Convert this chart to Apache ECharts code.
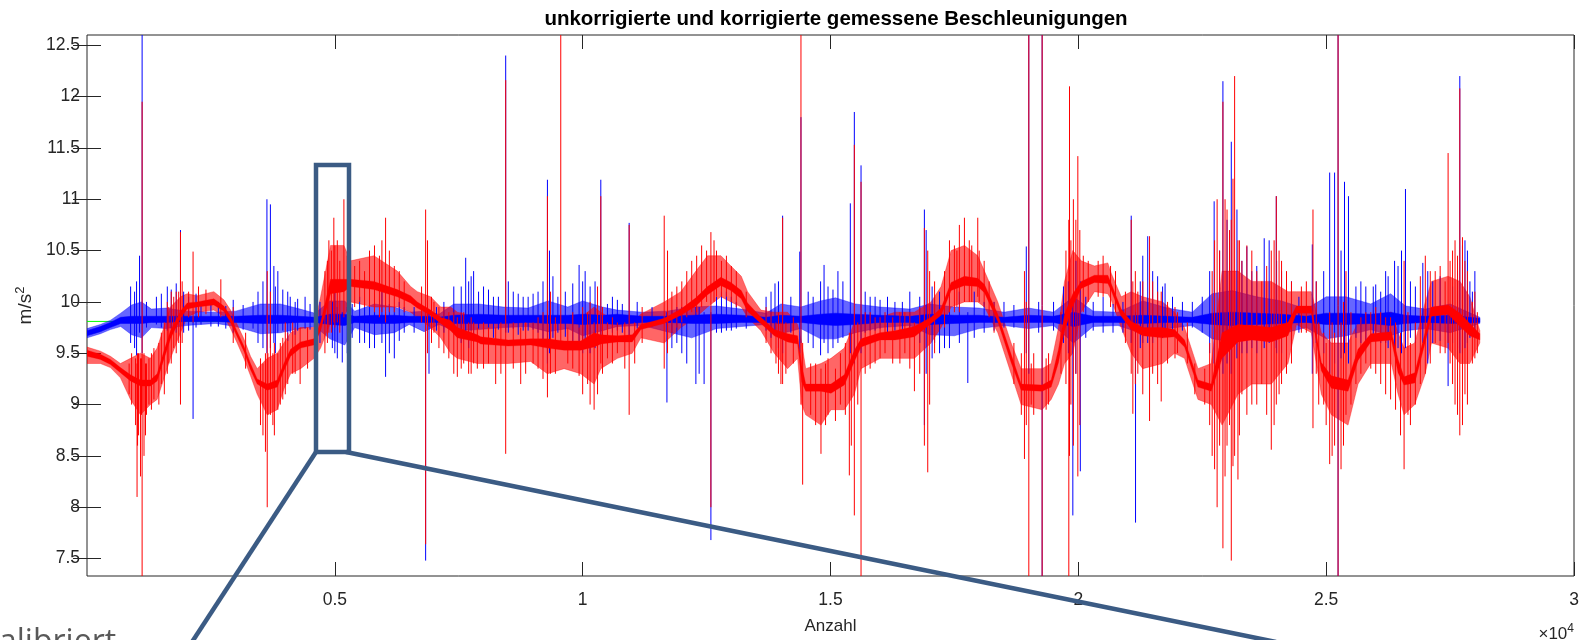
<!DOCTYPE html>
<html>
<head>
<meta charset="utf-8">
<script src="https://cdn.jsdelivr.net/npm/echarts@6/dist/echarts.min.js"></script>
<style>
  html, body { margin: 0; padding: 0; background: #fff; }
  #chart { width: 1587px; height: 640px; }
</style>
</head>
<body>
<div id="chart"></div>
<script>
// Axis ranges and tick positions
const xTicks = [5000, 10000, 15000, 20000, 25000, 30000];
const yTicks = [7.5, 8, 8.5, 9, 9.5, 10, 10.5, 11, 11.5, 12, 12.5];
const gravity = 9.81;          // reference line (green)
const sampleEnd = 28100;       // last sample index

// Uncorrected signal (blue), per station:
// [sample, noise low, core low, core high, noise high] in m/s^2
const blueBand = [
  [0, 9.65, 9.67, 9.72, 9.74], [270, 9.69, 9.71, 9.76, 9.78], [470, 9.73, 9.75, 9.80, 9.82],
  [680, 9.76, 9.79, 9.85, 9.89], [900, 9.68, 9.79, 9.86, 9.97], [1100, 9.65, 9.79, 9.86, 10.00],
  [1300, 9.75, 9.80, 9.86, 9.93], [1600, 9.74, 9.80, 9.86, 9.94], [2000, 9.77, 9.81, 9.86, 9.91],
  [2600, 9.79, 9.81, 9.86, 9.90], [3000, 9.76, 9.80, 9.86, 9.91], [3500, 9.69, 9.79, 9.87, 9.98],
  [3900, 9.70, 9.79, 9.87, 9.98], [4300, 9.74, 9.80, 9.86, 9.93], [4600, 9.76, 9.80, 9.85, 9.89],
  [4900, 9.64, 9.78, 9.88, 10.01], [5200, 9.58, 9.77, 9.88, 10.01], [5400, 9.75, 9.80, 9.86, 9.91],
  [5800, 9.68, 9.79, 9.87, 9.98], [6200, 9.70, 9.79, 9.87, 9.95], [6500, 9.78, 9.80, 9.86, 9.90],
  [6800, 9.71, 9.80, 9.86, 9.91], [7100, 9.78, 9.80, 9.85, 9.88], [7400, 9.72, 9.79, 9.87, 9.98],
  [7900, 9.73, 9.79, 9.88, 9.98], [8400, 9.75, 9.79, 9.87, 9.95], [8900, 9.76, 9.80, 9.87, 9.94],
  [9300, 9.71, 9.79, 9.87, 10.01], [9700, 9.74, 9.79, 9.87, 9.95], [10000, 9.67, 9.78, 9.88, 10.01],
  [10400, 9.72, 9.79, 9.87, 9.95], [10700, 9.76, 9.78, 9.88, 9.92], [11200, 9.77, 9.80, 9.86, 9.90],
  [11700, 9.71, 9.80, 9.86, 9.91], [12200, 9.65, 9.79, 9.87, 9.95], [12700, 9.74, 9.79, 9.88, 9.96],
  [13200, 9.76, 9.80, 9.87, 9.93], [13700, 9.78, 9.80, 9.85, 9.89], [14000, 9.69, 9.79, 9.87, 9.98],
  [14400, 9.74, 9.80, 9.86, 9.95], [14800, 9.64, 9.78, 9.88, 10.01], [15100, 9.64, 9.77, 9.89, 10.04],
  [15500, 9.70, 9.78, 9.88, 9.98], [16000, 9.75, 9.80, 9.87, 9.95], [16600, 9.77, 9.80, 9.86, 9.93],
  [17000, 9.68, 9.78, 9.88, 9.98], [17500, 9.67, 9.79, 9.87, 9.95], [18000, 9.74, 9.80, 9.87, 9.94],
  [18500, 9.77, 9.80, 9.85, 9.90], [19000, 9.74, 9.80, 9.87, 9.94], [19500, 9.77, 9.80, 9.86, 9.90],
  [19900, 9.60, 9.76, 9.90, 10.05], [20300, 9.76, 9.80, 9.86, 9.91], [20800, 9.77, 9.80, 9.86, 9.90],
  [21300, 9.69, 9.79, 9.87, 10.01], [21800, 9.74, 9.80, 9.86, 9.94], [22300, 9.77, 9.80, 9.85, 9.90],
  [22700, 9.64, 9.78, 9.89, 10.08], [23100, 9.61, 9.77, 9.90, 10.11], [23600, 9.67, 9.78, 9.89, 10.05],
  [24100, 9.69, 9.79, 9.88, 10.01], [24600, 9.75, 9.80, 9.86, 9.93], [25000, 9.64, 9.78, 9.89, 10.05],
  [25400, 9.67, 9.78, 9.89, 10.05], [25900, 9.73, 9.79, 9.88, 9.98], [26300, 9.67, 9.77, 9.90, 10.08],
  [26600, 9.72, 9.79, 9.87, 9.96], [27000, 9.74, 9.80, 9.86, 9.93], [27500, 9.70, 9.79, 9.87, 9.98],
  [28100, 9.79, 9.80, 9.84, 9.85]
];

// Individual excursions of the blue signal: [sample, low, high]
const blueSpikes = [
  [880, 9.60, 10.15], [960, 9.55, 10.10], [1000, 9.48, 10.20], [1060, 9.70, 10.45], [1112, 9.50, 12.70],
  [1200, 9.75, 10.00], [1400, 9.78, 10.05], [1500, 9.75, 10.08], [1620, 9.72, 10.15], [1700, 9.74, 10.12],
  [1800, 9.70, 10.18], [1886, 9.65, 10.70], [1950, 9.70, 10.10], [2050, 9.72, 10.05], [2140, 8.86, 9.85],
  [2200, 9.75, 10.08], [2300, 9.78, 9.98], [2500, 9.76, 10.02], [2650, 9.76, 10.00], [2800, 9.74, 9.96],
  [2950, 9.70, 10.02], [3150, 9.73, 9.97], [3350, 9.74, 10.00], [3450, 9.60, 10.10], [3550, 9.55, 10.20],
  [3630, 9.50, 11.00], [3700, 9.55, 10.95], [3770, 9.60, 10.35], [3800, 9.50, 10.15], [3850, 9.70, 10.30],
  [3950, 9.72, 10.12], [4050, 9.62, 10.10], [4100, 9.70, 10.05], [4200, 9.68, 10.00], [4250, 9.72, 10.03],
  [4400, 9.74, 10.05], [4500, 9.73, 9.98], [4700, 9.60, 10.00], [4950, 9.55, 10.00], [5000, 9.50, 10.10],
  [5050, 9.45, 9.95], [5150, 9.41, 9.90], [5250, 9.50, 9.95], [5350, 9.65, 9.98], [5500, 9.60, 10.05],
  [5600, 9.60, 9.95], [5700, 9.55, 10.00], [5800, 9.55, 9.98], [5950, 9.60, 10.10], [6024, 9.27, 9.90],
  [6100, 9.50, 9.98], [6200, 9.45, 9.95], [6300, 9.62, 10.00], [6400, 9.70, 9.95], [6600, 9.70, 9.95],
  [6832, 7.48, 9.85], [6900, 9.30, 9.90], [7050, 9.72, 9.95], [7200, 9.70, 10.00], [7400, 9.70, 10.15],
  [7550, 9.60, 10.15], [7640, 9.65, 10.43], [7700, 9.55, 10.20], [7750, 9.72, 10.25], [7800, 9.65, 10.30],
  [7900, 9.74, 10.10], [8000, 9.70, 10.15], [8100, 9.72, 10.12], [8200, 9.65, 10.05], [8300, 9.73, 10.05],
  [8447, 9.70, 12.40], [8500, 9.70, 10.20], [8600, 9.74, 10.10], [8700, 9.68, 10.08], [8800, 9.72, 10.05],
  [8900, 9.72, 10.05], [9000, 9.73, 10.08], [9100, 9.70, 10.10], [9200, 9.60, 10.20], [9289, 9.40, 11.19],
  [9330, 9.50, 10.50], [9400, 9.65, 10.25], [9500, 9.70, 10.05], [9650, 9.66, 10.10], [9800, 9.62, 10.18],
  [9928, 9.60, 10.36], [10000, 9.50, 10.20], [10050, 9.55, 10.30], [10150, 9.50, 10.15], [10250, 9.55, 10.20],
  [10366, 9.60, 11.19], [10500, 9.74, 9.98], [10600, 9.70, 10.05], [10700, 9.72, 10.02], [10800, 9.70, 9.98],
  [10938, 9.65, 10.77], [11100, 9.74, 10.00], [11400, 9.76, 9.95], [11700, 9.02, 9.90], [11800, 9.55, 9.92],
  [11900, 9.60, 9.95], [12000, 9.50, 9.95], [12100, 9.40, 9.95], [12284, 9.20, 9.95], [12350, 9.30, 9.95],
  [12450, 9.20, 9.90], [12587, 7.68, 9.90], [12700, 9.70, 10.05], [12800, 9.70, 10.10], [12900, 9.72, 10.10],
  [13000, 9.72, 10.05], [13100, 9.74, 10.00], [13300, 9.74, 10.00], [13700, 9.72, 10.05], [13800, 9.65, 10.10],
  [13880, 9.68, 10.18], [13950, 9.55, 10.20], [14034, 9.50, 10.84], [14200, 9.70, 10.05], [14380, 9.50, 10.49],
  [14404, 9.60, 11.80], [14550, 9.60, 10.10], [14650, 9.55, 10.05], [14800, 9.48, 10.20], [14870, 9.60, 10.36],
  [14950, 9.50, 10.15], [15050, 9.55, 10.12], [15150, 9.60, 10.30], [15250, 9.65, 10.20], [15400, 9.50, 10.96],
  [15481, 9.40, 11.85], [15616, 9.50, 11.33], [15700, 9.70, 10.10], [15800, 9.72, 10.05], [15900, 9.72, 10.05],
  [16000, 9.74, 10.02], [16150, 9.70, 10.05], [16300, 9.72, 10.00], [16450, 9.72, 10.00], [16600, 9.74, 10.10],
  [16800, 9.60, 10.05], [16894, 8.80, 10.90], [16930, 9.30, 10.70], [17050, 9.45, 10.15], [17100, 9.60, 10.05],
  [17200, 9.50, 10.10], [17300, 9.55, 10.00], [17400, 9.55, 10.05], [17600, 9.60, 10.10], [17770, 9.21, 9.90],
  [17900, 9.65, 10.10], [18100, 9.70, 10.00], [18300, 9.72, 10.00], [18500, 9.75, 10.00], [18700, 9.75, 9.97],
  [18950, 9.50, 10.54], [19000, 9.30, 12.70], [19200, 9.70, 10.00], [19270, 7.30, 12.70], [19500, 9.72, 10.00],
  [19700, 9.60, 10.15], [19800, 9.50, 10.20], [19889, 7.92, 10.00], [19950, 9.30, 10.40], [20040, 8.35, 10.20],
  [20150, 9.65, 10.05], [20300, 9.72, 10.00], [20500, 9.70, 10.05], [20700, 9.70, 9.98], [20900, 9.70, 10.00],
  [21067, 9.60, 10.84], [21154, 7.85, 9.90], [21250, 9.55, 10.20], [21300, 9.60, 10.45], [21400, 9.60, 10.64],
  [21500, 9.60, 10.30], [21600, 9.65, 10.25], [21700, 9.65, 10.15], [21750, 9.70, 10.18], [21900, 9.72, 10.05],
  [22100, 9.72, 10.00], [22300, 9.75, 10.00], [22500, 9.70, 10.05], [22650, 9.50, 10.30], [22740, 9.40, 10.98],
  [22850, 9.45, 10.50], [22917, 9.30, 12.15], [23000, 9.40, 10.80], [23086, 9.30, 11.56], [23200, 9.45, 10.90],
  [23300, 9.50, 10.40], [23400, 9.50, 10.54], [23500, 9.55, 10.30], [23600, 9.50, 10.35], [23750, 9.55, 10.62],
  [23850, 9.60, 10.60], [23994, 9.55, 11.03], [24000, 9.50, 10.40], [24100, 9.50, 10.30], [24200, 9.60, 10.25],
  [24300, 9.55, 10.20], [24450, 9.70, 10.05], [24720, 9.30, 10.56], [24800, 9.60, 10.20], [24950, 9.50, 10.30],
  [25071, 9.30, 11.26], [25170, 9.40, 11.26], [25240, 7.30, 12.70], [25300, 9.45, 10.50], [25370, 9.50, 11.17],
  [25450, 9.40, 11.03], [25600, 9.65, 10.15], [25700, 9.60, 10.20], [25800, 9.60, 10.15], [25950, 9.62, 10.15],
  [26000, 9.65, 10.17], [26100, 9.60, 10.10], [26200, 9.60, 10.30], [26250, 9.55, 10.25], [26380, 9.55, 10.40],
  [26450, 9.55, 10.35], [26520, 9.50, 10.50], [26600, 9.55, 11.10], [26700, 9.65, 10.20], [26800, 9.60, 10.15],
  [26950, 9.60, 10.38], [27050, 9.40, 10.30], [27150, 9.60, 10.20], [27300, 9.62, 10.25], [27460, 9.18, 9.90],
  [27550, 9.60, 10.15], [27650, 9.55, 10.30], [27696, 9.50, 12.20], [27750, 9.50, 10.55], [27800, 9.55, 10.60],
  [27850, 9.60, 10.50], [27900, 9.65, 10.20], [27950, 9.70, 10.10], [28000, 9.70, 10.30]
];

// Corrected signal (red), per station:
// [sample, noise low, core low, core high, noise high] in m/s^2
const redBand = [
  [0, 9.40, 9.47, 9.53, 9.56], [271, 9.40, 9.44, 9.49, 9.52], [473, 9.36, 9.39, 9.44, 9.47],
  [675, 9.26, 9.31, 9.36, 9.40], [877, 9.05, 9.23, 9.29, 9.45], [1078, 8.90, 9.18, 9.24, 9.50],
  [1280, 9.00, 9.18, 9.24, 9.45], [1415, 9.05, 9.23, 9.30, 9.55], [1550, 9.25, 9.44, 9.52, 9.75],
  [1684, 9.45, 9.64, 9.72, 9.95], [1886, 9.70, 9.84, 9.91, 10.05], [2021, 9.85, 9.93, 9.99, 10.08],
  [2222, 9.90, 9.95, 10.00, 10.06], [2559, 9.92, 9.97, 10.03, 10.10], [2761, 9.86, 9.91, 9.96, 10.02],
  [2896, 9.74, 9.80, 9.86, 9.92], [3030, 9.60, 9.66, 9.71, 9.78], [3165, 9.45, 9.52, 9.57, 9.64],
  [3299, 9.28, 9.34, 9.40, 9.47], [3434, 9.10, 9.20, 9.25, 9.35], [3636, 8.90, 9.14, 9.20, 9.45],
  [3838, 8.95, 9.17, 9.24, 9.50], [3972, 9.15, 9.33, 9.40, 9.60], [4107, 9.30, 9.47, 9.54, 9.70],
  [4309, 9.35, 9.55, 9.61, 9.75], [4578, 9.45, 9.58, 9.64, 9.75], [4713, 9.55, 9.72, 9.80, 10.05],
  [4914, 9.80, 10.08, 10.22, 10.55], [5183, 9.85, 10.10, 10.22, 10.55], [5318, 10.00, 10.15, 10.22, 10.40],
  [5789, 9.95, 10.12, 10.20, 10.45], [6260, 9.95, 10.05, 10.12, 10.30], [6529, 9.90, 9.99, 10.06, 10.15],
  [6664, 9.85, 9.94, 10.00, 10.10], [6933, 9.75, 9.87, 9.92, 10.05], [7135, 9.65, 9.79, 9.85, 9.95],
  [7337, 9.50, 9.72, 9.82, 9.95], [7471, 9.45, 9.65, 9.75, 9.90], [7875, 9.40, 9.61, 9.68, 9.85],
  [7943, 9.40, 9.59, 9.66, 9.80], [8500, 9.40, 9.57, 9.63, 9.80], [8952, 9.42, 9.58, 9.64, 9.80],
  [9289, 9.30, 9.55, 9.64, 9.85], [9625, 9.35, 9.53, 9.62, 9.85], [9962, 9.30, 9.53, 9.62, 9.85],
  [10231, 9.20, 9.56, 9.70, 9.95], [10366, 9.35, 9.59, 9.68, 9.90], [10700, 9.45, 9.61, 9.67, 9.80],
  [11000, 9.50, 9.61, 9.68, 9.80], [11173, 9.65, 9.73, 9.78, 9.88], [11645, 9.60, 9.79, 9.84, 10.00],
  [11981, 9.75, 9.87, 9.93, 10.10], [12284, 9.85, 9.96, 10.04, 10.30], [12519, 9.95, 10.07, 10.15, 10.45],
  [12789, 10.05, 10.16, 10.24, 10.45], [12991, 10.00, 10.11, 10.19, 10.35], [13200, 9.95, 10.03, 10.11, 10.25],
  [13327, 9.85, 9.91, 9.99, 10.10], [13596, 9.72, 9.79, 9.85, 9.92], [13865, 9.50, 9.67, 9.73, 9.90],
  [14135, 9.35, 9.61, 9.69, 9.90], [14337, 9.45, 9.59, 9.67, 9.78], [14420, 9.00, 9.22, 9.38, 9.60],
  [14500, 8.90, 9.13, 9.20, 9.35], [14808, 8.80, 9.13, 9.20, 9.40], [15010, 8.95, 9.11, 9.20, 9.45],
  [15279, 8.95, 9.19, 9.29, 9.55], [15481, 9.10, 9.42, 9.53, 9.80], [15616, 9.35, 9.56, 9.64, 9.85],
  [16000, 9.45, 9.63, 9.70, 9.85], [16300, 9.45, 9.63, 9.72, 9.90], [16693, 9.45, 9.66, 9.76, 9.90],
  [17029, 9.60, 9.79, 9.85, 10.00], [17231, 9.75, 9.87, 9.94, 10.15], [17433, 9.95, 10.11, 10.19, 10.50],
  [17702, 10.00, 10.16, 10.25, 10.55], [17971, 10.00, 10.15, 10.23, 10.45], [18106, 9.95, 10.09, 10.17, 10.30],
  [18375, 9.70, 9.81, 9.88, 10.00], [18644, 9.30, 9.41, 9.49, 9.60], [18846, 9.00, 9.14, 9.20, 9.35],
  [19270, 8.95, 9.13, 9.19, 9.35], [19452, 9.05, 9.17, 9.24, 9.40], [19600, 9.20, 9.41, 9.54, 9.75],
  [19721, 9.40, 9.72, 9.88, 10.20], [19889, 9.50, 9.96, 10.08, 10.50], [20057, 9.90, 10.13, 10.20, 10.40],
  [20326, 10.10, 10.19, 10.26, 10.35], [20595, 10.08, 10.18, 10.26, 10.38], [20663, 10.02, 10.11, 10.18, 10.28],
  [20865, 9.75, 9.86, 9.93, 10.05], [21067, 9.50, 9.73, 9.81, 10.10], [21300, 9.35, 9.67, 9.75, 10.05],
  [21700, 9.40, 9.65, 9.75, 10.00], [21941, 9.50, 9.66, 9.73, 9.90], [22143, 9.45, 9.56, 9.63, 9.75],
  [22413, 9.05, 9.17, 9.24, 9.35], [22682, 9.00, 9.13, 9.20, 9.40], [22900, 8.80, 9.45, 9.70, 10.30],
  [23220, 9.10, 9.61, 9.78, 10.30], [23500, 9.20, 9.63, 9.77, 10.20], [23893, 9.20, 9.61, 9.75, 10.20],
  [24230, 9.40, 9.67, 9.80, 10.10], [24400, 9.78, 9.89, 9.96, 10.10], [24701, 9.70, 9.89, 9.96, 10.10],
  [24903, 9.10, 9.33, 9.41, 9.70], [25105, 8.90, 9.16, 9.28, 9.60], [25441, 8.80, 9.13, 9.24, 9.60],
  [25643, 9.20, 9.43, 9.54, 9.80], [25900, 9.40, 9.61, 9.69, 9.85], [26316, 9.40, 9.63, 9.71, 9.90],
  [26451, 9.10, 9.31, 9.44, 9.70], [26572, 8.90, 9.19, 9.27, 9.55], [26787, 9.00, 9.21, 9.31, 9.60],
  [27000, 9.30, 9.61, 9.71, 10.00], [27124, 9.60, 9.86, 9.95, 10.20], [27460, 9.55, 9.88, 9.97, 10.25],
  [27700, 9.40, 9.76, 9.89, 10.20], [27898, 9.40, 9.67, 9.79, 10.05], [28100, 9.60, 9.63, 9.69, 9.72]
];

// Individual excursions of the red signal: [sample, low, high]
const redSpikes = [
  [850, 9.10, 9.40], [900, 9.00, 9.50], [980, 8.80, 9.45], [1010, 8.10, 9.40], [1020, 8.60, 9.50],
  [1040, 8.70, 9.50], [1080, 8.30, 9.45], [1100, 8.90, 9.45], [1112, 7.30, 11.95], [1150, 8.50, 9.50],
  [1180, 8.70, 9.40], [1200, 8.90, 9.40], [1250, 9.00, 9.45], [1300, 8.95, 9.50], [1350, 9.05, 9.55],
  [1450, 9.00, 9.60], [1500, 9.20, 9.70], [1560, 9.10, 9.80], [1620, 9.30, 10.00], [1650, 9.40, 9.95],
  [1700, 9.40, 10.10], [1750, 9.55, 10.05], [1800, 9.50, 10.10], [1850, 9.60, 10.10], [1886, 9.00, 10.68],
  [1920, 9.60, 10.20], [2050, 9.85, 10.10], [2140, 9.80, 10.49], [2250, 9.85, 10.15], [2400, 9.88, 10.12],
  [2700, 9.85, 10.22], [2950, 9.60, 9.95], [3200, 9.35, 9.70], [3500, 8.80, 9.45], [3550, 8.70, 9.40],
  [3600, 8.54, 9.50], [3636, 8.00, 10.30], [3650, 8.90, 9.50], [3700, 8.90, 10.10], [3750, 8.80, 9.50],
  [3780, 8.70, 9.60], [3850, 8.95, 9.50], [3900, 9.00, 9.60], [3950, 9.05, 9.65], [4000, 9.10, 9.80],
  [4050, 9.20, 9.70], [4150, 9.30, 9.80], [4200, 9.30, 9.75], [4300, 9.20, 9.75], [4450, 9.35, 9.75],
  [4800, 9.50, 10.30], [4850, 9.60, 10.40], [4880, 9.70, 10.60], [4930, 9.70, 10.50], [4980, 9.80, 10.82],
  [5000, 9.75, 10.55], [5050, 9.80, 10.60], [5100, 9.70, 10.40], [5183, 9.85, 11.00], [5250, 9.90, 10.45],
  [5400, 9.95, 10.35], [5500, 10.00, 10.40], [5600, 9.95, 10.30], [5700, 9.95, 10.50], [5800, 9.90, 10.55],
  [5900, 9.85, 10.45], [5950, 9.90, 10.60], [6024, 9.80, 10.82], [6100, 9.90, 10.50], [6200, 9.90, 10.35],
  [6300, 9.95, 10.30], [6400, 9.90, 10.20], [6750, 9.80, 10.15], [6832, 7.64, 10.90], [6870, 9.50, 10.60],
  [6950, 9.60, 10.05], [7000, 9.70, 10.00], [7100, 9.55, 9.95], [7200, 9.50, 9.95], [7300, 9.45, 9.90],
  [7400, 9.30, 9.90], [7471, 9.27, 9.85], [7550, 9.35, 9.90], [7600, 9.40, 9.90], [7700, 9.30, 9.80],
  [7750, 9.30, 9.85], [7800, 9.40, 9.80], [7875, 9.35, 9.75], [8000, 9.35, 9.80], [8100, 9.40, 9.75],
  [8245, 9.20, 9.75], [8350, 9.30, 9.80], [8447, 8.52, 12.16], [8600, 9.35, 9.80], [8750, 9.20, 9.75],
  [8850, 9.30, 9.80], [9000, 9.40, 9.80], [9100, 9.35, 9.85], [9200, 9.25, 9.90], [9289, 9.07, 11.03],
  [9350, 9.30, 10.10], [9450, 9.30, 9.85], [9558, 9.60, 12.70], [9700, 9.40, 9.75], [9800, 9.35, 9.90],
  [9928, 9.28, 9.75], [10000, 9.10, 9.95], [10100, 9.20, 9.90], [10150, 9.00, 10.00], [10231, 8.95, 9.80],
  [10300, 9.10, 10.15], [10366, 9.40, 11.03], [10400, 9.30, 9.95], [10500, 9.45, 9.80], [10600, 9.40, 9.85],
  [10700, 9.50, 9.80], [10850, 9.35, 9.80], [10938, 8.90, 10.75], [11050, 9.40, 9.80], [11200, 9.60, 9.95],
  [11645, 9.35, 10.84], [11712, 9.50, 10.50], [11800, 9.70, 10.10], [11900, 9.75, 10.15], [12000, 9.80, 10.20],
  [12100, 9.85, 10.30], [12200, 9.90, 10.40], [12300, 9.90, 10.45], [12400, 9.95, 10.55], [12500, 10.00, 10.50],
  [12587, 8.00, 10.68], [12650, 10.00, 10.60], [12700, 10.05, 10.50], [12800, 10.05, 10.40], [12900, 10.05, 10.45],
  [13000, 10.00, 10.35], [13100, 9.95, 10.30], [13300, 9.85, 10.10], [13700, 9.60, 9.95], [13800, 9.50, 9.90],
  [13900, 9.40, 9.80], [13950, 9.30, 9.90], [14000, 9.20, 9.80], [14034, 9.20, 10.82], [14100, 9.30, 9.80],
  [14250, 9.40, 9.85], [14404, 9.00, 12.70], [14438, 8.22, 9.60], [14600, 8.90, 9.40], [14700, 8.80, 9.40],
  [14808, 8.52, 9.35], [14900, 8.80, 9.40], [14950, 8.90, 9.45], [15100, 8.84, 9.35], [15200, 9.00, 9.50],
  [15300, 8.90, 9.60], [15380, 8.31, 9.70], [15420, 8.60, 9.70], [15481, 7.92, 11.53], [15550, 9.00, 9.80],
  [15616, 7.30, 11.17], [15700, 9.30, 9.90], [15800, 9.35, 9.90], [15900, 9.40, 9.85], [16000, 9.45, 9.85],
  [16100, 9.50, 9.90], [16255, 9.40, 9.85], [16400, 9.40, 9.90], [16500, 9.50, 9.90], [16600, 9.35, 9.90],
  [16693, 9.13, 9.80], [16800, 9.30, 9.95], [16894, 8.60, 10.72], [16962, 8.34, 10.50], [17000, 9.00, 10.30],
  [17100, 9.50, 10.20], [17300, 9.75, 10.30], [17400, 9.90, 10.60], [17500, 9.90, 10.55], [17550, 9.95, 10.50],
  [17600, 9.90, 10.75], [17702, 10.00, 10.82], [17800, 10.00, 10.60], [17850, 10.00, 10.55], [17971, 10.05, 10.82],
  [18000, 10.00, 10.50], [18100, 9.95, 10.40], [18200, 9.85, 10.20], [18300, 9.70, 10.00], [18700, 9.20, 9.60],
  [18850, 8.90, 9.50], [18913, 8.47, 10.30], [18950, 8.80, 10.00], [19001, 7.30, 12.70], [19050, 9.00, 9.40],
  [19100, 8.90, 9.50], [19270, 7.30, 12.70], [19350, 8.95, 9.45], [19400, 9.00, 9.50], [19650, 9.30, 9.90],
  [19750, 9.20, 10.50], [19808, 7.30, 10.80], [19822, 8.50, 12.10], [19850, 9.00, 10.60], [19900, 8.60, 11.00],
  [19950, 9.30, 10.80], [19990, 8.30, 11.42], [20030, 8.80, 10.70], [20100, 9.90, 10.45], [20200, 10.00, 10.40],
  [20400, 10.05, 10.40], [20500, 10.05, 10.45], [20650, 9.95, 10.35], [20750, 9.90, 10.30], [20950, 9.60, 10.10],
  [21067, 9.30, 10.80], [21100, 8.91, 10.20], [21150, 9.20, 10.30], [21200, 9.30, 10.10], [21300, 9.10, 10.20],
  [21437, 8.84, 10.64], [21500, 9.30, 10.20], [21600, 9.20, 10.10], [21672, 9.03, 10.10], [21800, 9.40, 10.00],
  [21950, 9.45, 9.95], [22000, 9.50, 9.90], [22200, 9.40, 9.80], [22350, 9.10, 9.40], [22550, 9.00, 9.35],
  [22650, 8.80, 9.60], [22700, 8.50, 10.30], [22749, 8.37, 10.60], [22800, 8.00, 11.00], [22850, 8.60, 10.50],
  [22917, 7.60, 11.95], [22960, 8.30, 11.00], [23000, 8.60, 10.90], [23050, 8.80, 10.70], [23086, 7.48, 10.80],
  [23120, 8.40, 11.20], [23153, 8.50, 12.20], [23220, 8.27, 10.60], [23250, 8.70, 10.60], [23300, 9.10, 10.40],
  [23400, 8.90, 10.55], [23500, 9.00, 10.50], [23600, 9.00, 10.30], [23700, 9.20, 10.20], [23800, 8.90, 10.35],
  [23893, 8.56, 10.50], [23950, 8.80, 10.60], [23994, 9.00, 11.03], [24050, 9.10, 10.50], [24100, 9.20, 10.40],
  [24200, 9.30, 10.30], [24300, 9.40, 10.20], [24500, 9.70, 10.15], [24600, 9.70, 10.20], [24734, 8.77, 10.90],
  [24800, 9.30, 10.20], [24850, 9.00, 9.80], [24950, 9.00, 9.70], [25000, 8.80, 9.60], [25071, 8.42, 9.90],
  [25120, 8.50, 9.80], [25170, 8.60, 9.70], [25240, 7.30, 12.70], [25300, 8.37, 9.80], [25350, 8.60, 10.00],
  [25400, 8.90, 10.30], [25500, 9.00, 9.90], [25600, 9.20, 9.70], [25700, 9.30, 9.85], [25800, 9.40, 9.90],
  [25900, 9.35, 9.90], [26000, 9.30, 9.95], [26100, 9.20, 9.90], [26200, 9.10, 9.85], [26300, 9.05, 9.85],
  [26400, 8.95, 9.80], [26500, 8.70, 9.70], [26572, 8.37, 10.40], [26650, 8.90, 9.90], [26700, 8.80, 9.60],
  [26800, 9.00, 9.80], [26900, 9.20, 10.25], [27000, 9.30, 10.45], [27100, 9.40, 10.30], [27200, 9.60, 10.30],
  [27300, 9.50, 10.35], [27400, 9.50, 10.20], [27460, 9.60, 11.45], [27500, 9.40, 10.40], [27550, 9.20, 10.50],
  [27600, 9.00, 10.60], [27650, 8.90, 10.45], [27696, 8.70, 12.08], [27750, 8.80, 10.63], [27800, 9.10, 10.40],
  [27850, 9.00, 10.30], [27950, 9.40, 10.00], [28000, 9.45, 10.10], [28050, 9.50, 9.90]
];

const FONT = '"Liberation Sans", Arial, Helvetica, sans-serif';
const AXIS_COLOR = '#262626';
const BLUE = '#0000ff';
const RED = '#ff0000';

// Filled polygon between two columns of a band table (lowCol / highCol)
function bandRenderer(band, lowCol, highCol, fill, edge) {
  return function (params, api) {
    const upper = band.map(p => api.coord([p[0], p[highCol]]));
    const lower = band.slice().reverse().map(p => api.coord([p[0], p[lowCol]]));
    return {
      type: 'polygon',
      shape: { points: upper.concat(lower) },
      style: { fill: fill, stroke: fill, lineWidth: edge }
    };
  };
}

// Vertical stroke from low to high for one excursion, clipped to the plot box
function spikeRenderer(color) {
  return function (params, api) {
    const cs = params.coordSys;
    const clampY = y => Math.max(cs.y, Math.min(cs.y + cs.height, y));
    const a = api.coord([api.value(0), api.value(1)]);
    const b = api.coord([api.value(0), api.value(2)]);
    return {
      type: 'line',
      shape: { x1: a[0], y1: clampY(a[1]), x2: b[0], y2: clampY(b[1]) },
      style: { stroke: color, lineWidth: 1 }
    };
  };
}

function bandSeries(name, band, lowCol, highCol, fill, edge, z) {
  return {
    name: name, type: 'custom', silent: true, clip: true, z: z,
    data: [[band[0][0], band[0][lowCol]]],
    renderItem: bandRenderer(band, lowCol, highCol, fill, edge)
  };
}

function spikeSeries(name, spikes, color, z) {
  return {
    name: name, type: 'custom', silent: true, clip: true, z: z,
    data: spikes, encode: { x: 0, y: [1, 2] },
    renderItem: spikeRenderer(color)
  };
}

const tickStyle = { show: true, inside: true, length: 14, lineStyle: { color: AXIS_COLOR, width: 1 } };

const chart = echarts.init(document.getElementById('chart'), null, { renderer: 'canvas' });

chart.setOption({
  animation: false,
  backgroundColor: '#ffffff',
  title: {
    text: 'unkorrigierte und korrigierte gemessene Beschleunigungen',
    left: 831,
    top: 4,
    textAlign: 'center',
    textStyle: { fontFamily: FONT, fontSize: 20.5, fontWeight: 'bold', color: '#000' }
  },
  grid: {
    left: 87, right: 13, top: 35, bottom: 64,
    show: true, borderColor: AXIS_COLOR, borderWidth: 1, backgroundColor: '#fff'
  },
  xAxis: [
    {
      type: 'value', min: 0, max: 30000, position: 'bottom',
      name: 'Anzahl', nameLocation: 'middle', nameGap: 42,
      nameTextStyle: { fontFamily: FONT, fontSize: 17, color: AXIS_COLOR },
      axisLine: { show: false }, splitLine: { show: false },
      axisTick: Object.assign({ customValues: xTicks }, tickStyle),
      axisLabel: {
        customValues: xTicks, margin: 15,
        formatter: v => String(v / 10000),
        fontFamily: FONT, fontSize: 17.5, color: AXIS_COLOR
      }
    },
    {
      type: 'value', min: 0, max: 30000, position: 'top',
      axisLine: { show: false }, splitLine: { show: false },
      axisTick: Object.assign({ customValues: xTicks }, tickStyle),
      axisLabel: { show: false }
    }
  ],
  yAxis: [
    {
      type: 'value', min: 7.33, max: 12.6, position: 'left',
      name: 'm/s{sup|2}', nameLocation: 'middle', nameGap: 42, nameRotate: 90,
      nameTextStyle: {
        fontFamily: FONT, fontSize: 19, color: AXIS_COLOR,
        rich: { sup: { fontFamily: FONT, fontSize: 13, color: AXIS_COLOR, verticalAlign: 'top', padding: [0, 0, 11, 0] } }
      },
      axisLine: { show: false }, splitLine: { show: false },
      axisTick: Object.assign({ customValues: yTicks }, tickStyle),
      axisLabel: { customValues: yTicks, margin: 7, fontFamily: FONT, fontSize: 17.5, color: AXIS_COLOR }
    },
    {
      type: 'value', min: 7.33, max: 12.6, position: 'right',
      axisLine: { show: false }, splitLine: { show: false },
      axisTick: Object.assign({ customValues: yTicks }, tickStyle),
      axisLabel: { show: false }
    }
  ],
  series: [
    {
      name: 'Erdbeschleunigung', type: 'line', silent: true, symbol: 'none', z: 1,
      data: [[0, gravity], [sampleEnd, gravity]],
      lineStyle: { color: '#00ff00', width: 1 }
    },
    bandSeries('unkorrigiert Rauschen', blueBand, 1, 4, 'rgba(0,0,255,0.6)', 0.6, 2),
    bandSeries('korrigiert Rauschen', redBand, 1, 4, 'rgba(255,0,0,0.6)', 0.6, 3),
    bandSeries('unkorrigiert', blueBand, 2, 3, BLUE, 0.5, 4),
    spikeSeries('unkorrigiert Ausreißer', blueSpikes, BLUE, 5),
    bandSeries('korrigiert', redBand, 2, 3, RED, 0.3, 6),
    spikeSeries('korrigiert Ausreißer', redSpikes, RED, 7)
  ],
  graphic: [
    // axis exponent
    {
      type: 'text', right: 13, top: 623, z: 10,
      style: {
        text: '×10{sup|4}', fill: AXIS_COLOR, font: '17px ' + FONT,
        rich: { sup: { fontSize: 12, fontFamily: FONT, fill: AXIS_COLOR, verticalAlign: 'top', padding: [0, 0, 10, 0] } }
      }
    },
    // zoom callout frame and guide lines
    {
      type: 'rect', z: 20, silent: true,
      shape: { x: 316, y: 165, width: 33, height: 287 },
      style: { fill: 'none', stroke: '#3b5b84', lineWidth: 4.5 }
    },
    {
      type: 'line', z: 20, silent: true,
      shape: { x1: 316, y1: 452, x2: 192, y2: 642 },
      style: { stroke: '#3b5b84', lineWidth: 4.5 }
    },
    {
      type: 'line', z: 20, silent: true,
      shape: { x1: 346, y1: 452, x2: 1276, y2: 642 },
      style: { stroke: '#3b5b84', lineWidth: 4.5 }
    },
    {
      type: 'text', left: -1, top: 627, z: 20, silent: true,
      style: { text: 'alibriert', fill: '#595959', font: '32px "Open Sans", sans-serif' }
    }
  ]
});
</script>
</body>
</html>
